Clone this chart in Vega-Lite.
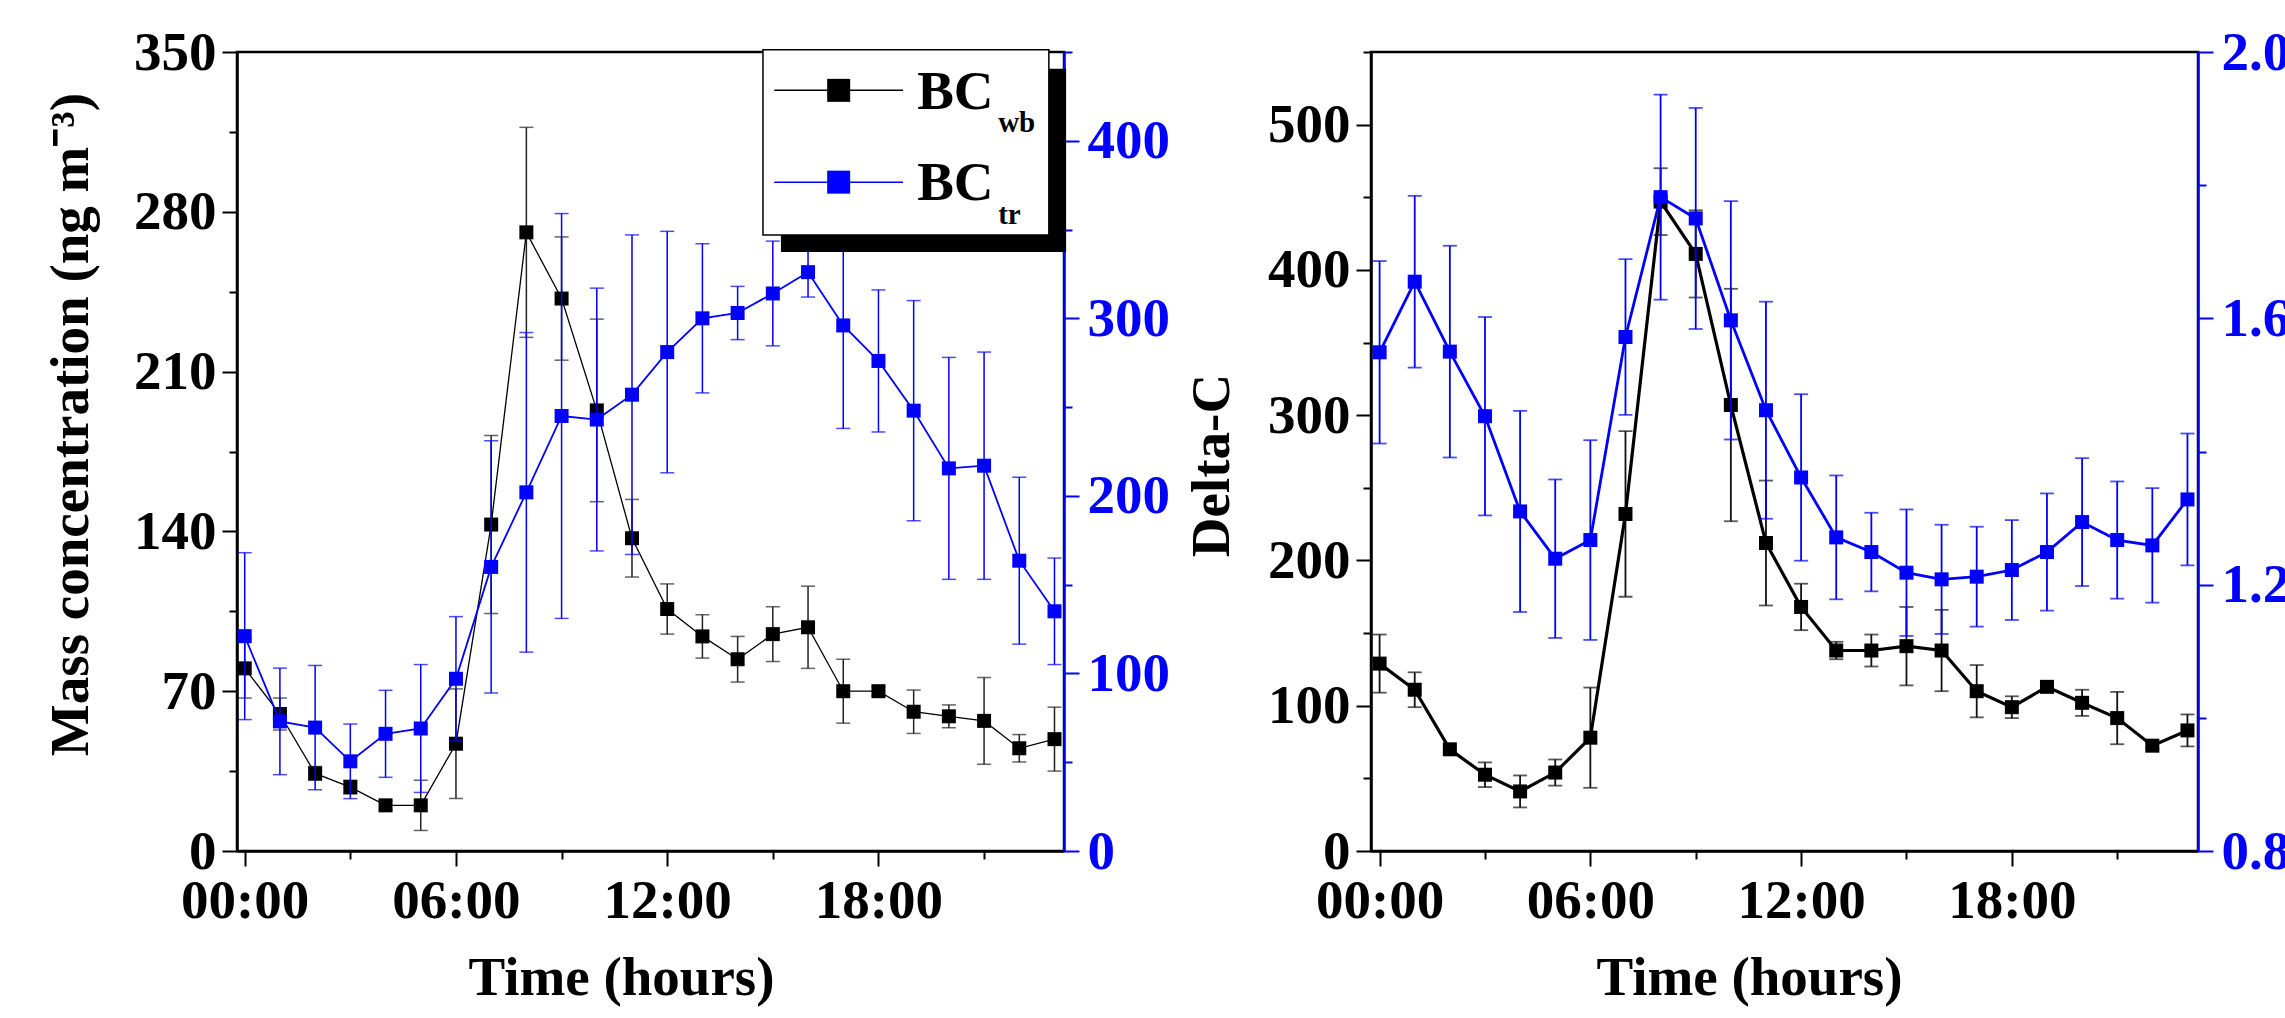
{
  "$schema": "https://vega.github.io/schema/vega-lite/v6.json",
  "background": "white",
  "padding": {"left": 41, "top": 23, "right": 0, "bottom": 0},
  "spacing": 307,
  "bounds": "flush",
  "config": {
    "view": {"stroke": "black", "strokeWidth": 2.5},
    "font": "Liberation Serif",
    "axis": {
      "grid": false,
      "labelFont": "Liberation Serif", "labelFontWeight": "bold", "labelFontSize": 55, "labelColor": "black",
      "titleFont": "Liberation Serif", "titleFontWeight": "bold", "titleFontSize": 55, "titleColor": "black",
      "domainWidth": 2.5, "domainColor": "black", "tickWidth": 2, "tickColor": "black",
      "labelPadding": 6, "labelFlush": false, "labelOverlap": false, "labelBound": false
    }
  },
  "hconcat": [
    {
      "width": 827, "height": 799,
      "data": {"values": [
        {"hour": 0, "wb": 80, "wb_err": 13, "tr": 121, "tr_err": 47},
        {"hour": 1, "wb": 60, "wb_err": 7, "tr": 73, "tr_err": 30},
        {"hour": 2, "wb": 34, "wb_err": 3, "tr": 69.5, "tr_err": 35},
        {"hour": 3, "wb": 28, "wb_err": 3, "tr": 50.5, "tr_err": 21},
        {"hour": 4, "wb": 20, "wb_err": 2, "tr": 66, "tr_err": 24.5},
        {"hour": 5, "wb": 20, "wb_err": 11, "tr": 69, "tr_err": 36},
        {"hour": 6, "wb": 47, "wb_err": 24, "tr": 97, "tr_err": 35},
        {"hour": 7, "wb": 143, "wb_err": 39, "tr": 160, "tr_err": 71},
        {"hour": 8, "wb": 271, "wb_err": 46, "tr": 202, "tr_err": 90},
        {"hour": 9, "wb": 242, "wb_err": 27, "tr": 245, "tr_err": 114},
        {"hour": 10, "wb": 193, "wb_err": 40, "tr": 243, "tr_err": 74},
        {"hour": 11, "wb": 137, "wb_err": 17, "tr": 257, "tr_err": 90},
        {"hour": 12, "wb": 106, "wb_err": 11, "tr": 281, "tr_err": 68},
        {"hour": 13, "wb": 94, "wb_err": 9.5, "tr": 300, "tr_err": 42},
        {"hour": 14, "wb": 84, "wb_err": 10, "tr": 303, "tr_err": 15},
        {"hour": 15, "wb": 95, "wb_err": 12, "tr": 314, "tr_err": 29.5},
        {"hour": 16, "wb": 98, "wb_err": 18, "tr": 326, "tr_err": 14},
        {"hour": 17, "wb": 70, "wb_err": 14, "tr": 296, "tr_err": 58},
        {"hour": 18, "wb": 70, "wb_err": 2, "tr": 276, "tr_err": 40},
        {"hour": 19, "wb": 61, "wb_err": 9.5, "tr": 248, "tr_err": 62},
        {"hour": 20, "wb": 59, "wb_err": 5, "tr": 215.5, "tr_err": 62.5},
        {"hour": 21, "wb": 57, "wb_err": 19, "tr": 217, "tr_err": 64},
        {"hour": 22, "wb": 45, "wb_err": 6, "tr": 163.5, "tr_err": 47},
        {"hour": 23, "wb": 49, "wb_err": 14, "tr": 135, "tr_err": 30}
      ]},
      "encoding": {
        "x": {
          "field": "hour", "type": "quantitative",
          "scale": {"domain": [-0.219, 23.27], "nice": false, "zero": false},
          "axis": {
            "values": [0, 3, 6, 9, 12, 15, 18, 21],
            "labelExpr": "datum.value % 6 === 0 ? (datum.value < 10 ? '0' : '') + datum.value + ':00' : ''",
            "tickSize": {"condition": {"test": "datum.value % 6 === 0", "value": 15}, "value": 8},
            "labelPadding": 8,
            "title": "Time (hours)", "titleX": 384, "titleY": 143, "titleBaseline": "alphabetic", "titleAlign": "center", "titleAnchor": null
          }
        }
      },
      "layer": [
        {
          "encoding": {
            "y": {
              "field": "wb", "type": "quantitative",
              "scale": {"domain": [0, 350], "nice": false, "zero": false},
              "axis": {
                "orient": "left",
                "values": [0, 35, 70, 105, 140, 175, 210, 245, 280, 315, 350],
                "labelExpr": "datum.value % 70 === 0 ? datum.label : ''",
                "tickSize": {"condition": {"test": "datum.value % 70 === 0", "value": 15}, "value": 8},
                "labelPadding": 6,
                "title": "Mass concentration (ng m⁻³)", "titleAngle": -90, "titleX": -150, "titleY": 372,
                "titleBaseline": "alphabetic", "titleAlign": "center", "titleAnchor": null
              }
            }
          },
          "layer": [
            {"mark": {"type": "errorbar", "color": "#222222", "rule": {"strokeWidth": 1.5}, "ticks": {"size": 14, "thickness": 1.5}}, "encoding": {"yError": {"field": "wb_err"}}},
            {"mark": {"type": "line", "color": "black", "strokeWidth": 1.3}},
            {"mark": {"type": "point", "shape": "square", "filled": true, "size": 196, "color": "black", "opacity": 1}}
          ]
        },
        {
          "encoding": {
            "y": {
              "field": "tr", "type": "quantitative",
              "scale": {"domain": [0, 450], "nice": false, "zero": false},
              "axis": {
                "orient": "right",
                "values": [0, 50, 100, 150, 200, 250, 300, 350, 400, 450],
                "labelExpr": "datum.value % 100 === 0 ? datum.label : ''",
                "tickSize": {"condition": {"test": "datum.value % 100 === 0", "value": 15}, "value": 8},
                "labelPadding": 8,
                "labelColor": "#0000FF", "tickColor": "#0000FF", "domainColor": "#0000FF",
                "title": null
              }
            }
          },
          "layer": [
            {"mark": {"type": "errorbar", "color": "#0000FF", "rule": {"strokeWidth": 1.5}, "ticks": {"size": 14, "thickness": 1.5}}, "encoding": {"yError": {"field": "tr_err"}}},
            {"mark": {"type": "line", "color": "#0000FF", "strokeWidth": 1.8}},
            {"mark": {"type": "point", "shape": "square", "filled": true, "size": 196, "color": "#0000FF", "opacity": 1}},
            {"transform": [{"filter": "datum.hour === 0"}],
             "mark": {"type": "rect", "color": "black"},
             "encoding": {"x": {"datum": 15.23}, "x2": {"datum": 23.33}, "y": {"datum": 440.6}, "y2": {"datum": 337.4}}},
            {"transform": [{"filter": "datum.hour === 0"}],
             "mark": {"type": "rect", "fill": "white", "stroke": "black", "strokeWidth": 1.5},
             "encoding": {"x": {"datum": 14.72}, "x2": {"datum": 22.84}, "y": {"datum": 451.2}, "y2": {"datum": 346.9}}},
            {"transform": [{"filter": "datum.hour === 0"}],
             "mark": {"type": "rule", "color": "black", "strokeWidth": 1.5},
             "encoding": {"x": {"datum": 15.04}, "x2": {"datum": 18.70}, "y": {"datum": 428.4}}},
            {"transform": [{"filter": "datum.hour === 0"}],
             "mark": {"type": "point", "shape": "square", "filled": true, "size": 529, "color": "black", "opacity": 1},
             "encoding": {"x": {"datum": 16.87}, "y": {"datum": 428.4}}},
            {"transform": [{"filter": "datum.hour === 0"}],
             "mark": {"type": "text", "text": "BC", "font": "Liberation Serif", "fontWeight": "bold", "fontSize": 55, "align": "left", "baseline": "alphabetic", "color": "black"},
             "encoding": {"x": {"datum": 19.10}, "y": {"datum": 418.1}}},
            {"transform": [{"filter": "datum.hour === 0"}],
             "mark": {"type": "text", "text": "wb", "font": "Liberation Serif", "fontWeight": "bold", "fontSize": 29, "align": "left", "baseline": "alphabetic", "color": "black"},
             "encoding": {"x": {"datum": 21.40}, "y": {"datum": 404.9}}},
            {"transform": [{"filter": "datum.hour === 0"}],
             "mark": {"type": "rule", "color": "#0000FF", "strokeWidth": 1.5},
             "encoding": {"x": {"datum": 15.04}, "x2": {"datum": 18.70}, "y": {"datum": 376.7}}},
            {"transform": [{"filter": "datum.hour === 0"}],
             "mark": {"type": "point", "shape": "square", "filled": true, "size": 529, "color": "#0000FF", "opacity": 1},
             "encoding": {"x": {"datum": 16.87}, "y": {"datum": 376.7}}},
            {"transform": [{"filter": "datum.hour === 0"}],
             "mark": {"type": "text", "text": "BC", "font": "Liberation Serif", "fontWeight": "bold", "fontSize": 55, "align": "left", "baseline": "alphabetic", "color": "black"},
             "encoding": {"x": {"datum": 19.10}, "y": {"datum": 366.5}}},
            {"transform": [{"filter": "datum.hour === 0"}],
             "mark": {"type": "text", "text": "tr", "font": "Liberation Serif", "fontWeight": "bold", "fontSize": 29, "align": "left", "baseline": "alphabetic", "color": "black"},
             "encoding": {"x": {"datum": 21.40}, "y": {"datum": 353.3}}}
          ]
        }
      ],
      "resolve": {"scale": {"y": "independent"}}
    },
    {
      "width": 827, "height": 799,
      "data": {"values": [
        {"hour": 0, "dc": 129, "dc_err": 20, "ratio": 1.549, "ratio_err": 0.137},
        {"hour": 1, "dc": 111, "dc_err": 12, "ratio": 1.655, "ratio_err": 0.129},
        {"hour": 2, "dc": 70, "dc_err": 2, "ratio": 1.550, "ratio_err": 0.159},
        {"hour": 3, "dc": 52.5, "dc_err": 8.5, "ratio": 1.453, "ratio_err": 0.149},
        {"hour": 4, "dc": 41, "dc_err": 11, "ratio": 1.310, "ratio_err": 0.151},
        {"hour": 5, "dc": 54, "dc_err": 9, "ratio": 1.239, "ratio_err": 0.119},
        {"hour": 6, "dc": 78, "dc_err": 34.5, "ratio": 1.267, "ratio_err": 0.150},
        {"hour": 7, "dc": 232, "dc_err": 57, "ratio": 1.572, "ratio_err": 0.117},
        {"hour": 8, "dc": 447, "dc_err": 23, "ratio": 1.782, "ratio_err": 0.154},
        {"hour": 9, "dc": 411, "dc_err": 30, "ratio": 1.750, "ratio_err": 0.166},
        {"hour": 10, "dc": 307, "dc_err": 80, "ratio": 1.597, "ratio_err": 0.179},
        {"hour": 11, "dc": 212, "dc_err": 43, "ratio": 1.462, "ratio_err": 0.163},
        {"hour": 12, "dc": 168, "dc_err": 16, "ratio": 1.361, "ratio_err": 0.125},
        {"hour": 13, "dc": 138, "dc_err": 6, "ratio": 1.271, "ratio_err": 0.093},
        {"hour": 14, "dc": 138, "dc_err": 11, "ratio": 1.249, "ratio_err": 0.059},
        {"hour": 15, "dc": 141, "dc_err": 27, "ratio": 1.218, "ratio_err": 0.095},
        {"hour": 16, "dc": 138, "dc_err": 28, "ratio": 1.208, "ratio_err": 0.082},
        {"hour": 17, "dc": 110, "dc_err": 18, "ratio": 1.212, "ratio_err": 0.075},
        {"hour": 18, "dc": 99, "dc_err": 7.5, "ratio": 1.222, "ratio_err": 0.075},
        {"hour": 19, "dc": 113, "dc_err": 2, "ratio": 1.249, "ratio_err": 0.088},
        {"hour": 20, "dc": 102, "dc_err": 9, "ratio": 1.294, "ratio_err": 0.096},
        {"hour": 21, "dc": 91.5, "dc_err": 18, "ratio": 1.267, "ratio_err": 0.088},
        {"hour": 22, "dc": 72.5, "dc_err": 2, "ratio": 1.259, "ratio_err": 0.086},
        {"hour": 23, "dc": 83, "dc_err": 11, "ratio": 1.328, "ratio_err": 0.099}
      ]},
      "encoding": {
        "x": {
          "field": "hour", "type": "quantitative",
          "scale": {"domain": [-0.245, 23.3], "nice": false, "zero": false},
          "axis": {
            "values": [0, 3, 6, 9, 12, 15, 18, 21],
            "labelExpr": "datum.value % 6 === 0 ? (datum.value < 10 ? '0' : '') + datum.value + ':00' : ''",
            "tickSize": {"condition": {"test": "datum.value % 6 === 0", "value": 15}, "value": 8},
            "labelPadding": 8,
            "title": "Time (hours)", "titleX": 378, "titleY": 143, "titleBaseline": "alphabetic", "titleAlign": "center", "titleAnchor": null
          }
        }
      },
      "layer": [
        {
          "encoding": {
            "y": {
              "field": "dc", "type": "quantitative",
              "scale": {"domain": [0, 550], "nice": false, "zero": false},
              "axis": {
                "orient": "left",
                "values": [0, 50, 100, 150, 200, 250, 300, 350, 400, 450, 500, 550],
                "labelExpr": "datum.value % 100 === 0 ? datum.label : ''",
                "tickSize": {"condition": {"test": "datum.value % 100 === 0", "value": 15}, "value": 8},
                "labelPadding": 6,
                "title": "Delta-C", "titleAngle": -90, "titleX": -143, "titleY": 413,
                "titleBaseline": "alphabetic", "titleAlign": "center", "titleAnchor": null
              }
            }
          },
          "layer": [
            {"mark": {"type": "errorbar", "color": "#111111", "rule": {"strokeWidth": 1.8}, "ticks": {"size": 14, "thickness": 1.8}}, "encoding": {"yError": {"field": "dc_err"}}},
            {"mark": {"type": "line", "color": "black", "strokeWidth": 3.2}},
            {"mark": {"type": "point", "shape": "square", "filled": true, "size": 196, "color": "black", "opacity": 1}}
          ]
        },
        {
          "encoding": {
            "y": {
              "field": "ratio", "type": "quantitative",
              "scale": {"domain": [0.8, 2.0], "nice": false, "zero": false},
              "axis": {
                "orient": "right",
                "values": [0.8, 1.0, 1.2, 1.4, 1.6, 1.8, 2.0],
                "labelExpr": "round(datum.value * 10) % 4 === 0 ? format(datum.value, '.1f') : ''",
                "tickSize": {"condition": {"test": "round(datum.value * 10) % 4 === 0", "value": 15}, "value": 8},
                "labelPadding": 8,
                "labelColor": "#0000FF", "tickColor": "#0000FF", "domainColor": "#0000FF",
                "title": null
              }
            }
          },
          "layer": [
            {"mark": {"type": "errorbar", "color": "#0000FF", "rule": {"strokeWidth": 1.8}, "ticks": {"size": 14, "thickness": 1.8}}, "encoding": {"yError": {"field": "ratio_err"}}},
            {"mark": {"type": "line", "color": "#0000FF", "strokeWidth": 2.8}},
            {"mark": {"type": "point", "shape": "square", "filled": true, "size": 196, "color": "#0000FF", "opacity": 1}}
          ]
        }
      ],
      "resolve": {"scale": {"y": "independent"}}
    }
  ]
}
